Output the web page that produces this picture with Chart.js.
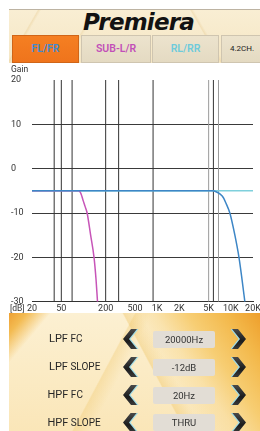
<!DOCTYPE html>
<html><head><meta charset="utf-8">
<script src="https://cdn.jsdelivr.net/npm/chart.js@4/dist/chart.umd.min.js"></script>
<style>
html,body{margin:0;padding:0;width:260px;height:431px;overflow:hidden;background:#fff;font-family:Roboto,"Noto Sans",sans-serif;}
.abs{position:absolute;}
#header{left:9px;top:9px;width:251px;height:54px;border-top:1px solid #bdb3a2;box-sizing:border-box;
 background:
  linear-gradient(120deg, transparent 0 10%, rgba(230,200,140,0.35) 10.5%, transparent 11.5%, transparent 30%, rgba(230,200,140,0.3) 30.5%, transparent 31.5%),
  linear-gradient(60deg, transparent 0 75%, rgba(230,200,140,0.35) 75.5%, transparent 76.5%),
  linear-gradient(to bottom,#f9eed3,#f5e6c4);}
#logo{left:83px;top:9px;width:116px;height:24px;line-height:24px;font:italic bold 23px "DejaVu Sans";letter-spacing:-0.8px;color:#121212;white-space:nowrap;}
.tab{top:35px;height:28px;box-sizing:border-box;border:1px solid #cfc5b0;background:linear-gradient(#ece3cd,#e4dac2);text-align:center;line-height:26px;font-size:10.5px;font-weight:600;white-space:nowrap;overflow:hidden;}
#t1{left:12px;width:67px;background:linear-gradient(#f57f22,#ef741c);border-color:#d06518;color:#3f8bd2;}
#t2{left:81px;width:70px;color:#c24fb8;}
#t3{left:152px;width:67px;color:#6ecbdc;}
#t4{left:221px;width:42px;color:#222;font-size:8px;font-weight:normal;text-align:left;padding-left:8px;}
#panel{left:9px;top:313px;width:251px;height:118px;
 background:
  linear-gradient(130deg, #eea032 0, #f3bb52 5%, rgba(250,225,160,0) 12%),
  linear-gradient(235deg, #ee9f2c 0, #f3b84a 10%, rgba(246,200,100,0.85) 22%, rgba(248,215,140,0.5) 32%, rgba(250,230,180,0) 42%),
  linear-gradient(62deg, transparent 0 56%, rgba(240,200,110,0.45) 56.5%, transparent 62%),
  linear-gradient(118deg, transparent 0 40%, rgba(240,200,110,0.35) 40.5%, transparent 46%),
  linear-gradient(to bottom,#fcf0d2,#fae6b8);}
.lbl{left:48px;height:14px;line-height:14px;font-size:10px;color:#262626;white-space:nowrap;}
.lbl b{font-weight:normal;font-size:11px;}
.val{left:153px;width:62px;height:17px;line-height:17px;background:#e2ddd5;border-radius:2px;text-align:center;font-size:9.5px;color:#333;}
.chev{width:14px;height:20px;}
.chev i{position:absolute;left:0;top:0;width:14px;height:20px;display:block;}
.chL i.c{clip-path:polygon(8px 0,14px 0,6px 10px,14px 20px,8px 20px,0 10px);background:#9fdbe6;left:1.5px;}
.chL i.d{clip-path:polygon(8px 0,14px 0,6px 10px,14px 20px,8px 20px,0 10px);background:linear-gradient(#4a4a4a,#1c1c1c 60%,#3a3a3a);}
.chR i.c{clip-path:polygon(0 0,6px 0,14px 10px,6px 20px,0 20px,8px 10px);background:#9fdbe6;left:-1.5px;}
.chR i.d{clip-path:polygon(0 0,6px 0,14px 10px,6px 20px,0 20px,8px 10px);background:linear-gradient(#4a4a4a,#1c1c1c 60%,#3a3a3a);}
#gain{left:11px;top:64px;font-size:8.5px;color:#333;line-height:10px;}
#db{left:10px;top:303px;font-size:8.5px;color:#333;line-height:10px;}
#cv{position:absolute;left:0;top:63px;}
</style></head>
<body>
<div id="header" class="abs"></div>
<div id="logo" class="abs">Premiera</div>
<div id="t1" class="abs tab">FL/FR</div>
<div id="t2" class="abs tab">SUB-L/R</div>
<div id="t3" class="abs tab">RL/RR</div>
<div id="t4" class="abs tab">4.2CH.</div>
<canvas id="cv" width="260" height="250" style="width:260px;height:250px"></canvas>
<div id="gain" class="abs">Gain</div>
<div id="db" class="abs">[dB]</div>
<div id="panel" class="abs"></div>
<div class="abs lbl" style="top:332px;left:49px"><b>LPF</b> FC</div>
<div class="abs lbl" style="top:360px;left:49px"><b>LPF</b> SLOPE</div>
<div class="abs lbl" style="top:388px;left:47.5px"><b>HPF</b> FC</div>
<div class="abs lbl" style="top:416px;left:47.5px"><b>HPF</b> SLOPE</div>
<div class="abs val" style="top:331px">20000Hz</div>
<div class="abs val" style="top:358.7px">-12dB</div>
<div class="abs val" style="top:386.7px">20Hz</div>
<div class="abs val" style="top:414.3px">THRU</div>
<div class="abs chev chL" style="left:123px;top:329px"><i class="c"></i><i class="d"></i></div>
<div class="abs chev chL" style="left:123px;top:357px"><i class="c"></i><i class="d"></i></div>
<div class="abs chev chL" style="left:123px;top:385px"><i class="c"></i><i class="d"></i></div>
<div class="abs chev chL" style="left:123px;top:412.5px"><i class="c"></i><i class="d"></i></div>
<div class="abs chev chR" style="left:232px;top:329px"><i class="c"></i><i class="d"></i></div>
<div class="abs chev chR" style="left:232px;top:357px"><i class="c"></i><i class="d"></i></div>
<div class="abs chev chR" style="left:232px;top:385px"><i class="c"></i><i class="d"></i></div>
<div class="abs chev chR" style="left:232px;top:412.5px"><i class="c"></i><i class="d"></i></div>
<script>
const xTickValues = [20, 50, 200, 500, 1000, 2000, 5000, 10000, 20000];
const xTickLabels = ['20', '50', '200', '500', '1K', '2K', '5K', '10K', '20K'];
const yTickValues = [-30, -20, -10, 0, 10, 20];
const markerFreqs = [40, 50, 70, 200, 300, 880, 5000, 5800, 6800];
const rlFreq = [20, 20000];
const rlGain = [-5, -5];
const frontFreq = [20, 5700, 6300, 7100, 7900, 8600, 9700, 11350, 12900, 14200, 15500];
const frontGain = [-5, -5, -5.2, -5.7, -6.5, -7.8, -10, -15, -20, -25, -30];
const subFreq = [20, 86, 91, 95, 99, 105, 112, 125, 139, 148, 155];
const subGain = [-5, -5, -5.4, -6.2, -7.2, -8.5, -10, -15, -20, -25, -30];

const markerColors = ['#333', '#333', '#333', '#333', '#333', '#333', '#9a9a9a', '#333', '#9a9a9a'];
const pts = (xs, ys) => xs.map((x, i) => ({x, y: ys[i]}));

const datasets = [];
datasets.push({data: pts(frontFreq, frontGain), borderColor: '#3d86c6', borderWidth: 1.5, order: 1, cubicInterpolationMode: 'monotone'});
datasets.push({data: pts(subFreq, subGain), borderColor: '#c755b8', borderWidth: 1.5, order: 2, cubicInterpolationMode: 'monotone'});
datasets.push({data: pts(rlFreq, rlGain), borderColor: '#7fd0dc', borderWidth: 1.5, order: 3});
markerFreqs.forEach((f, i) => {
  datasets.push({data: [{x: f, y: yTickValues[0]}, {x: f, y: yTickValues[yTickValues.length - 1]}],
    borderColor: markerColors[i], borderWidth: 1, order: 10});
});

new Chart(document.getElementById('cv'), {
  type: 'line',
  data: {datasets},
  options: {
    responsive: false, animation: false, devicePixelRatio: 1,
    layout: {padding: {left: 11, right: 7, top: 17, bottom: 0}},
    elements: {point: {radius: 0}, line: {tension: 0}},
    plugins: {legend: {display: false}, tooltip: {enabled: false}},
    scales: {
      x: {
        type: 'logarithmic', min: 20, max: 20000,
        afterBuildTicks: s => { s.ticks = xTickValues.map(v => ({value: v})); },
        afterFit: s => { s.height = 11.3; s.paddingLeft = 0; s.paddingRight = 0; },
        ticks: {autoSkip: false, maxRotation: 0, padding: 2, color: '#333', font: {size: 9, family: 'Roboto'},
          callback: (v, i) => xTickLabels[i]},
        grid: {display: false, drawTicks: false},
        border: {display: true, color: '#333', width: 1}
      },
      y: {
        min: -30, max: 20,
        afterBuildTicks: s => { s.ticks = yTickValues.map(v => ({value: v})); },
        afterFit: s => { s.width = 21; s.paddingTop = 0; s.paddingBottom = 0; },
        ticks: {crossAlign: 'far', padding: 0, color: '#333', font: {size: 9, family: 'Roboto'}},
        grid: {drawTicks: false, color: c => (c.tick && c.tick.value === 20) ? 'rgba(0,0,0,0)' : '#3a3a3a', lineWidth: 1},
        border: {display: false}
      }
    }
  }
});
</script>
</body></html>
